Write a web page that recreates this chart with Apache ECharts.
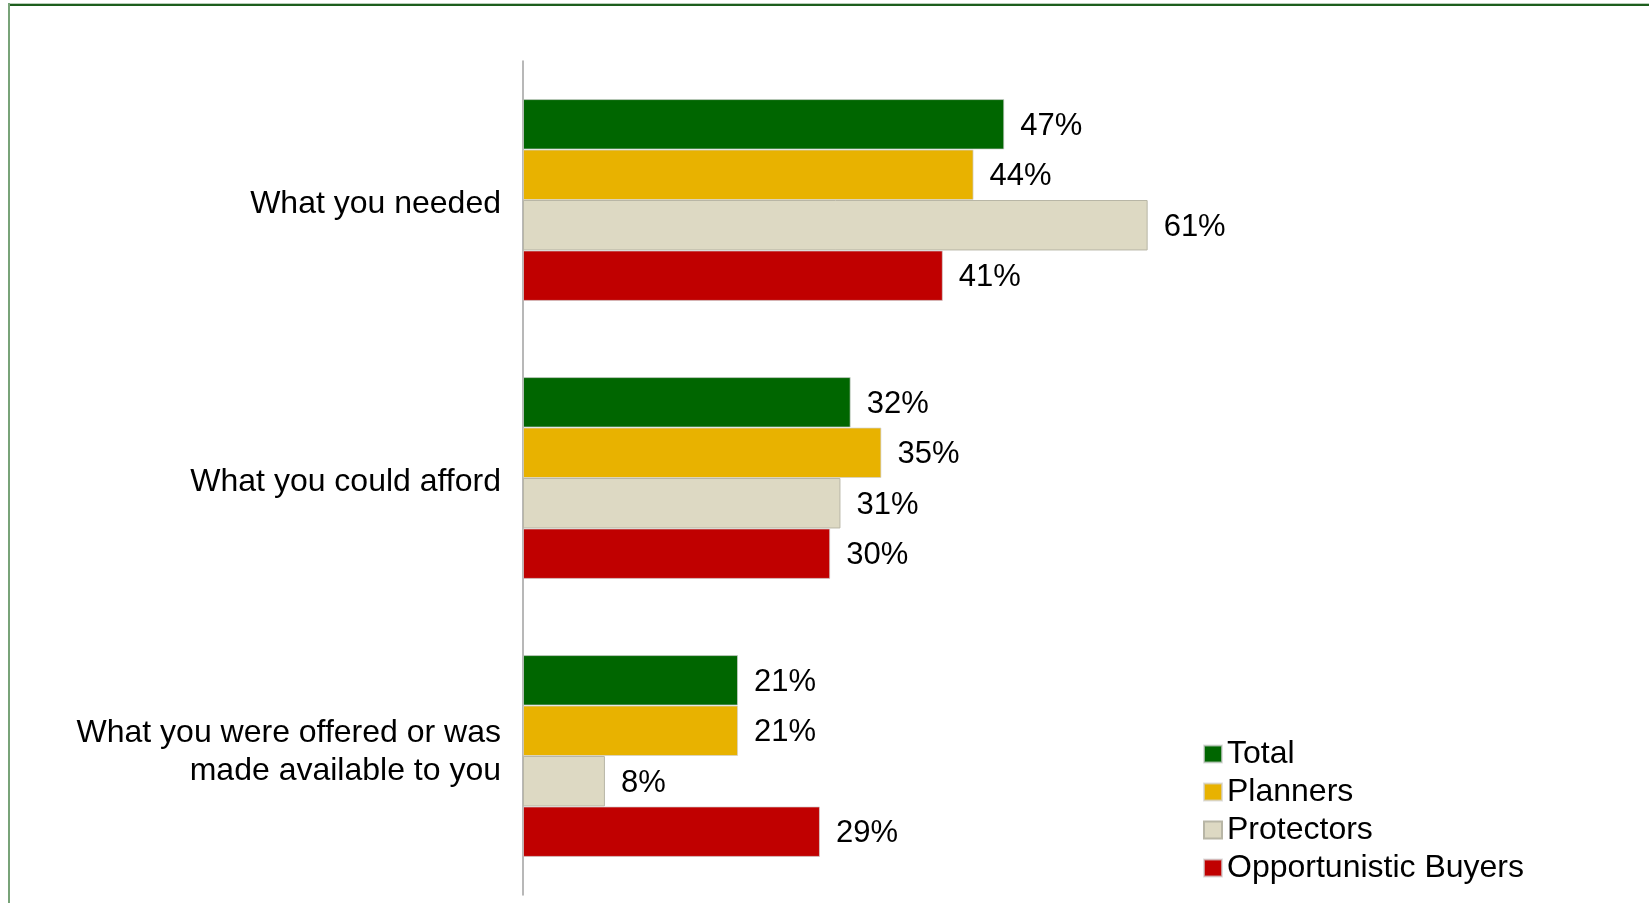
<!DOCTYPE html>
<html>
<head>
<meta charset="utf-8">
<script src="https://cdn.jsdelivr.net/npm/echarts@6/dist/echarts.min.js"></script>
<style>
  html, body { margin: 0; padding: 0; background: #fff; }
  #chart { position: absolute; left: 0; top: 0; width: 1649px; height: 903px; }
  .bt1 { position: absolute; left: 8px; top: 3px; right: 0; height: 1px; background: #b9cfb9; }
  .bt2 { position: absolute; left: 8px; top: 4px; right: 0; height: 1.5px; background: #1d5e1d; }
  .bl { position: absolute; left: 8px; top: 3px; bottom: 0; width: 2px; background: #78a378; }
</style>
</head>
<body>
<div id="chart"></div>
<div class="bt1"></div><div class="bt2"></div><div class="bl"></div>
<script>
const categories = ['What you needed', 'What you could afford', 'What you were offered or was\nmade available to you'];
const seriesNames = ['Total', 'Planners', 'Protectors', 'Opportunistic Buyers'];
const totalValues = [47, 32, 21];
const plannersValues = [44, 35, 21];
const protectorsValues = [61, 31, 8];
const opportunisticValues = [41, 30, 29];
const seriesColors = ['#006600', '#E8B200', '#DDD9C3', '#C00000'];

const font = "'Liberation Sans', Arial, sans-serif";
const allValues = [totalValues, plannersValues, protectorsValues, opportunisticValues];
const catText = { fontFamily: font, fontSize: 32, lineHeight: 38, color: '#000', align: 'right' };

const chart = echarts.init(document.getElementById('chart'), null, { renderer: 'canvas' });
chart.setOption({
  animation: false,
  backgroundColor: 'transparent',
  textStyle: { fontFamily: font },
  legend: {
    orient: 'vertical',
    left: 1198,
    top: 733,
    icon: 'rect',
    itemWidth: 18,
    itemHeight: 17,
    itemGap: 6,
    textStyle: { fontFamily: font, fontSize: 32, lineHeight: 32, color: '#000' },
    data: seriesNames
  },
  grid: { left: 523, top: 61, width: 1024, height: 834, containLabel: false },
  xAxis: {
    type: 'value', min: 0, max: 100, show: false
  },
  yAxis: {
    type: 'category',
    data: categories,
    inverse: true,
    axisLine: { show: true, lineStyle: { color: '#a0a0a0', width: 1.5 } },
    axisTick: { show: false },
    axisLabel: {
      fontFamily: font, fontSize: 32, lineHeight: 38, color: '#000', margin: 22, align: 'right',
      padding: [0, 0, 8, 0],
      formatter: function (v) {
        if (v.indexOf('\n') === -1) return '{s|' + v + '}';
        return v;
      },
      rich: {
        s: Object.assign({ padding: [16, 0, 0, 0] }, catText)
      }
    }
  },
  series: seriesNames.map((name, i) => ({
    name: name,
    type: 'bar',
    data: allValues[i],
    barGap: '0%',
    barCategoryGap: '27.4%',
    itemStyle: {
      color: seriesColors[i],
      borderColor: i === 2 ? '#b8b6a6' : 'rgba(210,210,210,0.7)',
      borderWidth: 1
    },
    label: {
      show: true,
      position: 'right',
      distance: 16,
      offset: [0, 2],
      formatter: '{c}%',
      fontFamily: font,
      fontSize: 31,
      color: '#000'
    }
  }))
});
</script>
</body>
</html>
